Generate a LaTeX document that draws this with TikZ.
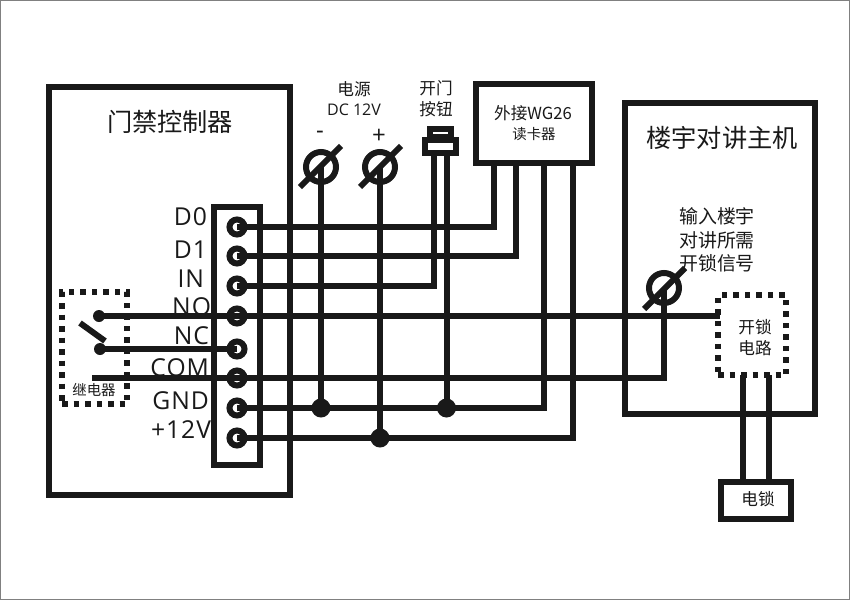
\documentclass[tikz,border=0pt]{standalone}
\usepackage{fontspec}
\setmainfont{Open Sans}
\newfontfamily\cjk{Noto Sans CJK SC}
\newfontfamily\pinfont[LetterSpace=4]{Open Sans}
\def\px{0.75pt}
\tikzset{
  ink/.style={draw=black!90!white},
  wire/.style={ink,line width=6*\px},
  box/.style={ink,line width=6*\px,fill=white,rectangle,inner sep=0pt,outer sep=0pt},
  dotbox/.style={ink,line width=5.5*\px,rectangle,inner sep=0pt,outer sep=0pt,dash pattern=on 5.5*\px off 6*\px},
  term/.style={ink,circle,line width=6*\px,fill=white,minimum size=15*\px,inner sep=0pt,outer sep=0pt},
  screw/.style={ink,circle,line width=6*\px,minimum size=30*\px,inner sep=0pt,outer sep=0pt},
  joint/.style={fill=black!90!white,circle,minimum size=19*\px,inner sep=0pt,outer sep=0pt},
  relaydot/.style={fill=black!90!white,circle,minimum size=12*\px,inner sep=0pt,outer sep=0pt},
  slash/.style={ink,line width=6*\px},
  lab/.style={inner sep=0pt,outer sep=0pt,text=black!90!white,align=center},
  pin/.style={lab,anchor=east,font=\pinfont\fontsize{18.5pt}{20pt}\selectfont},
  cjkA/.style={lab,font=\cjk\fontsize{18.9pt}{22pt}\selectfont},
  cjkB/.style={lab,font=\cjk\fontsize{14.2pt}{17.6pt}\selectfont},
  cjkC/.style={lab,font=\cjk\fontsize{12.5pt}{15.5pt}\selectfont},
  cjkD/.style={lab,font=\cjk\fontsize{10.8pt}{13pt}\selectfont},
}
\begin{document}
\begin{tikzpicture}[x=0.75pt,y=-0.75pt]
\useasboundingbox (0,0) rectangle (850,600);
\draw[gray,line width=1pt] (0,0) rectangle (850,600);
% boxes
\node[box,minimum width=241.5*\px,minimum height=408*\px] (ctl) at (169.25,291) {};
\node[box,minimum width=46*\px,minimum height=258*\px] (blk) at (237,336) {};
\node[box,minimum width=190*\px,minimum height=311*\px] (host) at (719.5,258.5) {};
\node[box,minimum width=116*\px,minimum height=79*\px] (reader) at (534,123.5) {};
\node[box,minimum width=70*\px,minimum height=37*\px] (lock) at (756,500.5) {};
\node[dotbox,minimum width=65*\px,minimum height=112*\px] (relay) at (94.5,348) {};
\node[dotbox,minimum width=68*\px,minimum height=80*\px] (unlock) at (752,335) {};
% terminals
\node[term] (t0) at (237,227) {};
\node[term] (t1) at (237,256) {};
\node[term] (t2) at (237,286) {};
\node[term] (t3) at (237,316) {};
\node[term] (t4) at (237,349) {};
\node[term] (t5) at (237,378) {};
\node[term] (t6) at (237,408) {};
\node[term] (t7) at (237,438) {};
% screws
\node[screw] (neg) at (321,167) {};
\node[screw] (pos) at (380,167) {};
\node[screw] (sig) at (664,288) {};
% button
\node[box,minimum width=21*\px,minimum height=8*\px] (cap) at (440.5,133) {};
\node[box,minimum width=31*\px,minimum height=13*\px] (btn) at (440.5,146) {};
% joints
\node[joint] (j1) at (321,408) {};
\node[joint] (j2) at (380,438) {};
\node[joint] (j3) at (446.5,408) {};
% relay
\node[relaydot] (rno) at (99,316) {};
\node[relaydot] (rnc) at (100,349) {};
\coordinate (rcom) at (92,378);
\coordinate (bladeA) at (80,323);
\coordinate (bladeB) at (105,341);
% wires
\draw[wire] (t0.center) -- (494,227) -- (494,163);
\draw[wire] (t1.center) -- (516,256) -- (516,163);
\draw[wire] (t2.center) -- (434,286) -- (434,153);
\draw[wire] (t6.center) -- (544,408) -- (544,163);
\draw[wire] (t7.center) -- (573,438) -- (573,163);
\draw[wire] (j3.center |- btn.south) -- (j3.center);
\draw[wire] (neg.center) -- (j1.center);
\draw[wire] (pos.center) -- (j2.center);
\draw[wire] (rno.center) -- (720,316);
\draw[wire] (rnc.center) -- (t4.center);
\draw[wire] (rcom) -- (664,378) -- (sig.center);
\draw[wire] (743,375) -- (743,482);
\draw[wire] (769,375) -- (769,482);
% slashes
\draw[slash] (bladeA) -- (bladeB);
\draw[slash] (300,187) -- (341,146);
\draw[slash] (360,187) -- (401,146);
\draw[slash] (644,309) -- (685,268);
% text
\node[cjkA] (tctl) at (170,122) {门禁控制器};
\node[cjkA] (thost) at (722,138) {楼宇对讲主机};
\node[cjkC] (tpow) at (354,89) {电源};
\node[lab,font=\fontsize{12pt}{14pt}\selectfont] (tdc) at (354,110) {DC 12V};
\node[lab,font=\fontsize{18pt}{18pt}\selectfont] (tneg) at (320,135) {-};
\node[lab,font=\fontsize{18pt}{18pt}\selectfont] (tpos) at (379,136) {+};
\node[cjkC] (tb1) at (436,88) {开门};
\node[cjkC] (tb2) at (436,109) {按钮};
\node[lab,font=\cjk\fontsize{12.5pt}{15pt}\selectfont] (tr1) at (533,113) {外接WG26};
\node[cjkD] (tr2) at (534,134) {读卡器};
\node[cjkB] (ts1) at (717,216) {输入楼宇};
\node[cjkB] (ts2) at (717,240) {对讲所需};
\node[cjkB] (ts3) at (717,263) {开锁信号};
\node[cjkC] (tu1) at (755,327) {开锁};
\node[cjkC] (tu2) at (755,348) {电路};
\node[cjkC] (tl) at (758,499) {电锁};
\node[cjkD] (trl) at (94,390) {继电器};
\node[pin] (p0) at (207,217) {D0};
\node[pin] (p1) at (207,250) {D1};
\node[pin] (p2) at (204,279) {IN};
\node[pin] (p3) at (211,307) {NO};
\node[pin] (p4) at (209,336) {NC};
\node[pin] (p5) at (209,368) {COM};
\node[pin] (p6) at (209,401) {GND};
\node[pin] (p7) at (211,430) {+12V};
\end{tikzpicture}
\end{document}
